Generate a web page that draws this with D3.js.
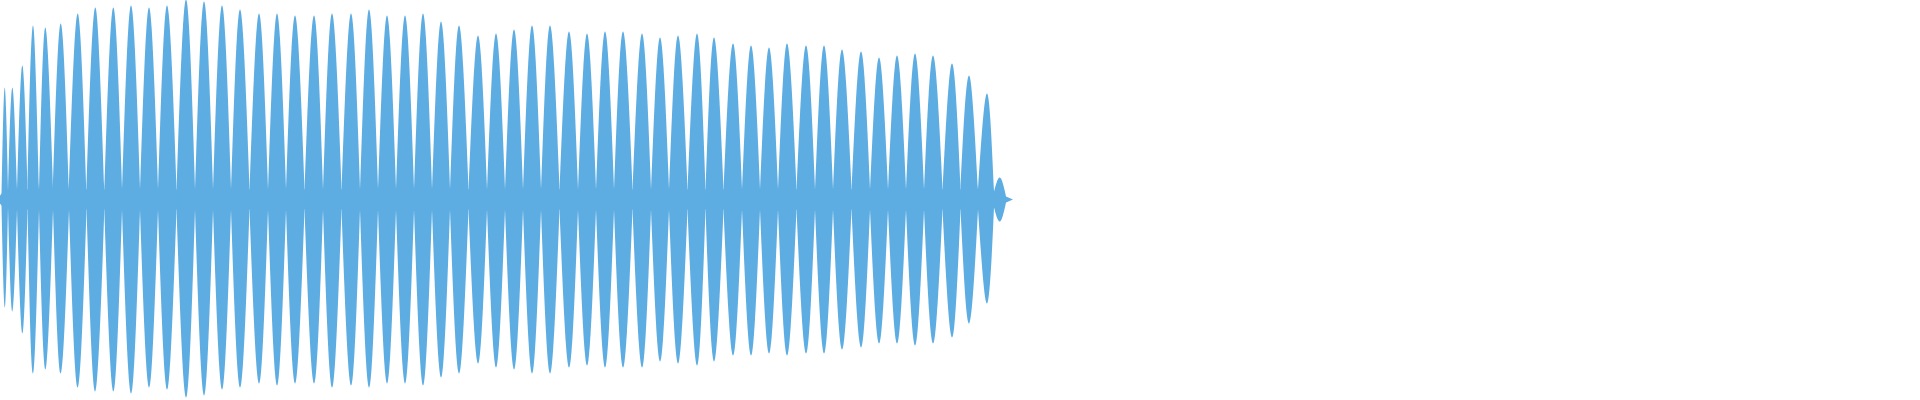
<!DOCTYPE html>
<html>
<head>
<meta charset="utf-8">
<script src="https://cdn.jsdelivr.net/npm/d3@7"></script>
<style>
  html, body { margin: 0; padding: 0; background: #fff; }
  svg { display: block; }
</style>
</head>
<body>
<svg id="wave-svg" width="1920" height="400"></svg>
<script>
// Waveform envelope, time in seconds, amplitude in -1..1

// time of each lobe peak
const peakTimes = [
	0.047, 0.123, 0.223, 0.33, 0.453, 0.607, 0.777, 0.953, 1.133, 1.31,
	1.49, 1.67, 1.86, 2.04, 2.22, 2.40, 2.59, 2.77, 2.95, 3.14,
	3.32, 3.51, 3.69, 3.87, 4.05, 4.23, 4.41, 4.59, 4.78, 4.96,
	5.14, 5.32, 5.50, 5.69, 5.87, 6.05, 6.23, 6.42, 6.60, 6.78,
	6.97, 7.14, 7.33, 7.51, 7.69, 7.87, 8.06, 8.24, 8.42, 8.61,
	8.79, 8.97, 9.15, 9.33, 9.52, 9.69, 9.87, 10.00
];
// max amplitude of each lobe
const peakTops = [
	0.56, 0.56, 0.67, 0.87, 0.86, 0.88, 0.93, 0.96, 0.96, 0.97,
	0.96, 0.97, 1.00, 0.99, 0.97, 0.95, 0.93, 0.93, 0.92, 0.92,
	0.93, 0.93, 0.95, 0.92, 0.92, 0.93, 0.89, 0.87, 0.82, 0.83,
	0.85, 0.87, 0.87, 0.84, 0.83, 0.84, 0.84, 0.83, 0.81, 0.82,
	0.83, 0.81, 0.78, 0.77, 0.76, 0.78, 0.77, 0.77, 0.75, 0.74,
	0.71, 0.72, 0.73, 0.72, 0.68, 0.62, 0.53, 0.11
];
// min amplitude of each lobe
const peakBottoms = [
	-0.54, -0.56, -0.67, -0.87, -0.85, -0.87, -0.94, -0.96, -0.96, -0.97,
	-0.94, -0.95, -0.99, -0.98, -0.95, -0.94, -0.92, -0.93, -0.92, -0.92,
	-0.94, -0.93, -0.94, -0.92, -0.92, -0.93, -0.89, -0.87, -0.82, -0.84,
	-0.85, -0.87, -0.87, -0.84, -0.83, -0.84, -0.84, -0.84, -0.81, -0.82,
	-0.83, -0.81, -0.78, -0.78, -0.77, -0.78, -0.77, -0.77, -0.75, -0.74,
	-0.72, -0.72, -0.73, -0.72, -0.69, -0.62, -0.52, -0.11
];
// time of the quiet points between lobes (one more than lobes)
const valleyTimes = [
	0.015, 0.08, 0.17, 0.275, 0.39, 0.53, 0.69, 0.865, 1.043, 1.22,
	1.40, 1.58, 1.765, 1.95, 2.13, 2.31, 2.495, 2.68, 2.86, 3.045,
	3.23, 3.415, 3.60, 3.78, 3.96, 4.14, 4.32, 4.50, 4.685, 4.87,
	5.05, 5.23, 5.41, 5.595, 5.78, 5.96, 6.14, 6.325, 6.51, 6.69,
	6.875, 7.055, 7.235, 7.42, 7.60, 7.78, 7.965, 8.15, 8.33, 8.515,
	8.70, 8.88, 9.06, 9.24, 9.425, 9.605, 9.78, 9.94, 10.06
];
// amplitude of the background hum at each valley
const bandLevels = [
	0.03, 0.04, 0.05, 0.05, 0.05, 0.05, 0.05, 0.05, 0.05, 0.05,
	0.05, 0.05, 0.05, 0.05, 0.05, 0.05, 0.05, 0.05, 0.05, 0.05,
	0.05, 0.05, 0.05, 0.05, 0.05, 0.05, 0.05, 0.05, 0.05, 0.05,
	0.05, 0.05, 0.05, 0.05, 0.05, 0.05, 0.05, 0.05, 0.05, 0.05,
	0.05, 0.05, 0.05, 0.05, 0.05, 0.05, 0.05, 0.05, 0.05, 0.05,
	0.05, 0.05, 0.05, 0.05, 0.05, 0.05, 0.05, 0.04, 0.015
];
const startLevel = 0.02;
const tailTime = 10.13;

const WAVE_COLOR = '#5dade2';
const WIDTH = 1920;
const HEIGHT = 400;

let svg = d3.select('#wave-svg');

// whole width shows 19.2 s, audio only fills the first half
const xScale = d3.scaleLinear([0, 19.2], [0, WIDTH]);
const yScale = d3.scaleLinear([-1, 1], [HEIGHT - 0.5, -0.5]);

// Background band through the valleys
let bandData = valleyTimes.map((t, i) => ({ t: t, b: bandLevels[i] }));
bandData.unshift({ t: 0, b: startLevel });
bandData.push({ t: tailTime, b: 0 });

const bandArea = d3.area()
	.x((d) => xScale(d.t))
	.y0((d) => yScale(-d.b))
	.y1((d) => yScale(d.b));

svg.append('path')
	.datum(bandData)
	.attr('class', 'band')
	.attr('fill', WAVE_COLOR)
	.attr('d', bandArea);

// One lobe per peak, smooth from valley to peak to valley
let lobes = peakTimes.map((t, i) => [
	{ t: valleyTimes[i], top: bandLevels[i], bottom: -bandLevels[i] },
	{ t: t, top: peakTops[i], bottom: peakBottoms[i] },
	{ t: valleyTimes[i + 1], top: bandLevels[i + 1], bottom: -bandLevels[i + 1] }
]);

const lobeArea = d3.area()
	.curve(d3.curveNatural)
	.x((d) => xScale(d.t))
	.y0((d) => yScale(d.bottom))
	.y1((d) => yScale(d.top));

svg.append('g')
	.attr('class', 'lobes')
	.selectAll('path')
	.data(lobes)
	.enter()
	.append('path')
	.attr('fill', WAVE_COLOR)
	.attr('d', lobeArea);
</script>
</body>
</html>
